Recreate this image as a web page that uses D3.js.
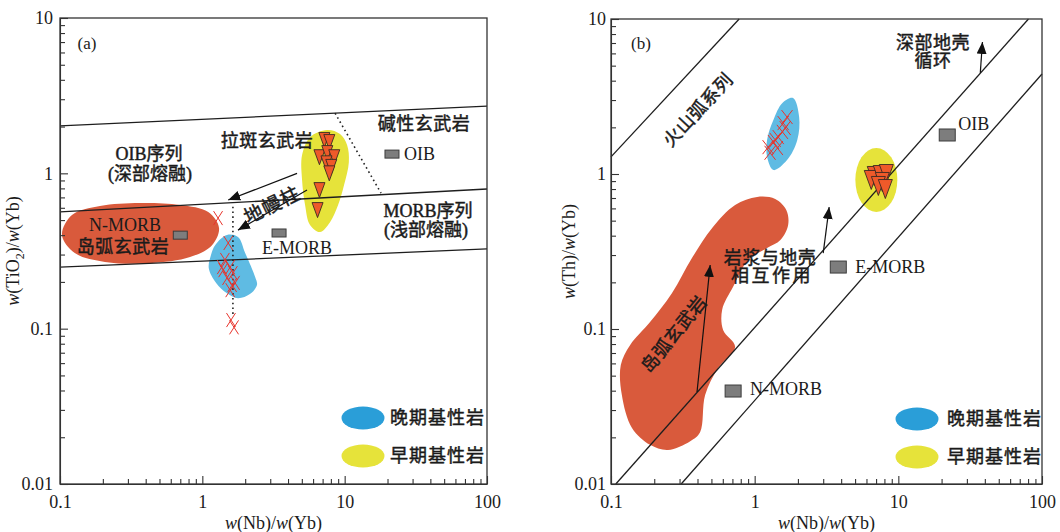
<!DOCTYPE html>
<html>
<head>
<meta charset="utf-8">
<script src="https://cdn.jsdelivr.net/npm/d3@7"></script>
<style>
  body { margin: 0; background: #fff; }
  svg text { font-family: "Liberation Serif", "Noto Sans CJK SC", serif; fill: #1b1b1b; }
  svg text.heavy { stroke: #1b1b1b; stroke-width: 0.45px; }
</style>
</head>
<body>
<svg id="chart" width="1060" height="532"></svg>
<script>
// ---------- shared axis ticks ----------
const xDecades = [0.1, 1, 10, 100];
const xDecadeLabels = ["0.1", "1", "10", "100"];
const yDecades = [0.01, 0.1, 1, 10];
const yDecadeLabels = ["0.01", "0.1", "1", "10"];

// ---------- panel (a): TiO2/Yb vs Nb/Yb ----------
const aBoundaries = [
  [[0.1, 2.02], [100, 2.71]],
  [[0.1, 0.564], [100, 0.793]],
  [[0.1, 0.249], [100, 0.326]]
];
const aDotted = [
  [[8.56, 2.44], [18.0, 0.746]],
  [[1.64, 0.61], [1.64, 0.122]]
];
const aArcField = [[0.1033, 0.401], [0.1214, 0.539], [0.191, 0.616], [0.365, 0.644], [0.697, 0.625],
  [1.10, 0.563], [1.31, 0.445], [1.17, 0.345], [0.820, 0.289], [0.429, 0.264], [0.207, 0.269], [0.127, 0.307]];
const aLateField = [[1.23, 0.345], [1.49, 0.401], [1.78, 0.389], [2.00, 0.307], [2.35, 0.215], [2.42, 0.191],
  [2.16, 0.167], [1.78, 0.157], [1.49, 0.169], [1.25, 0.197], [1.11, 0.245], [1.15, 0.298]];
const aEarlyField = [[7.52, 1.90], [9.28, 1.79], [10.4, 1.52], [10.7, 1.18], [9.90, 0.841], [8.99, 0.625],
  [7.89, 0.485], [6.71, 0.419], [5.71, 0.465], [5.27, 0.625], [5.02, 0.906], [5.02, 1.31], [5.71, 1.71]];
const aEarlyNb = [7.20, 7.80, 6.65, 7.55, 8.45, 7.45, 8.05, 7.80, 6.65, 6.45];
const aEarlyTi = [1.64, 1.59, 1.27, 1.35, 1.27, 1.16, 1.10, 1.00, 0.78, 0.58];
const aLateNb = [1.29, 1.52, 1.44, 1.57, 1.37, 1.64, 1.49, 1.62, 1.57, 1.40, 1.70, 1.59, 1.67];
const aLateTi = [0.515, 0.356, 0.277, 0.249, 0.249, 0.228, 0.212, 0.191, 0.177, 0.238, 0.197, 0.1136, 0.102];
const aRefNames = ["N-MORB", "E-MORB", "OIB"];
const aRefNb = [0.70, 3.46, 21.5];
const aRefTi = [0.40, 0.413, 1.33];
const aPlumeArrows = [
  [[4.63, 1.00], [1.52, 0.673]],
  [[5.44, 0.781], [1.78, 0.431]]
];

// ---------- panel (b): Th/Yb vs Nb/Yb ----------
const bBoundaries = [
  [[0.1, 1.29], [0.78, 10]],
  [[0.108, 0.01], [80.5, 10]],
  [[0.308, 0.01], [100, 4.42]]
];
const bArcField = [[1.04, 0.711], [1.39, 0.690], [1.66, 0.586], [1.71, 0.469], [1.51, 0.375], [1.22, 0.333],
  [0.901, 0.279], [0.708, 0.187], [0.594, 0.133], [0.603, 0.0986], [0.731, 0.0766], [0.557, 0.056],
  [0.452, 0.0375], [0.417, 0.0216], [0.356, 0.0189], [0.249, 0.0166], [0.187, 0.0179], [0.140, 0.0230],
  [0.119, 0.0375], [0.117, 0.0586], [0.136, 0.0789], [0.187, 0.111], [0.266, 0.171], [0.366, 0.287],
  [0.506, 0.449], [0.731, 0.631]];
const bLateField = [[1.85, 3.09], [2.04, 2.33], [1.98, 1.66], [1.68, 1.23], [1.35, 1.06], [1.22, 1.29],
  [1.22, 1.66], [1.35, 2.23], [1.56, 2.87]];
const bEarlyCentre = [7.03, 0.915];
const bEarlyNb = [6.80, 6.48, 7.49, 8.25, 7.74, 7.26, 8.12];
const bEarlyTh = [0.971, 0.915, 0.985, 1.00, 0.888, 0.837, 0.80];
const bLateNb = [1.24, 1.35, 1.46, 1.58, 1.68, 1.56, 1.28, 1.44, 1.63, 1.39];
const bLateTh = [1.49, 1.61, 1.73, 2.13, 2.33, 1.87, 1.37, 1.47, 1.98, 1.66];
const bRefNames = ["N-MORB", "E-MORB", "OIB"];
const bRefNb = [0.708, 3.82, 21.9];
const bRefTh = [0.0398, 0.251, 1.785];
const bArrows = [
  [[37.2, 4.49], [38.5, 7.11]],
  [[3.00, 0.309], [3.30, 0.612]],
  [[0.397, 0.0392], [0.490, 0.259]]
];

// ---------- colours ----------
const C = {
  arc: "#d95a3c", late: "#5fbbe3", lateKey: "#2a9ed8", early: "#e6e33a",
  tri: "#ee5a2a", cross: "#e8342c", ref: "#7d7d7d", ink: "#1e1e1e"
};

const svg = d3.select("#chart");
const defs = svg.append("defs");
defs.append("marker").attr("id", "head").attr("viewBox", "0 0 12 10")
  .attr("refX", 12).attr("refY", 5).attr("markerWidth", 12).attr("markerHeight", 10)
  .attr("markerUnits", "userSpaceOnUse").attr("orient", "auto")
  .append("path").attr("d", "M0,0 L12,5 L0,10 Z").attr("fill", "#111");

const isDecade = d => Math.abs(Math.log10(d) - Math.round(Math.log10(d))) < 1e-9;

function makeFrame(x, y, labelPad, yTitleX, yTitle) {
  const g = svg.append("g");
  const [x0, x1] = x.range();
  const [y1, y0] = y.range();
  const fmt = (vals, labels) => d => {
    const i = vals.findIndex(v => Math.abs(v - d) / v < 1e-9);
    return i >= 0 ? labels[i] : "";
  };
  const gx = g.append("g").attr("transform", `translate(0,${y1})`)
    .call(d3.axisBottom(x).tickValues(x.ticks()).tickSize(-5).tickSizeOuter(0)
      .tickPadding(11).tickFormat(fmt(xDecades, xDecadeLabels)));
  const gy = g.append("g").attr("transform", `translate(${x0},0)`)
    .call(d3.axisLeft(y).tickValues(y.ticks()).tickSize(-5).tickSizeOuter(0)
      .tickPadding(labelPad).tickFormat(fmt(yDecades, yDecadeLabels)));
  [gx, gy].forEach(a => {
    a.attr("font-size", null).attr("font-family", null);
    a.selectAll("text").style("font-size", "18px");
    a.selectAll("line, path").attr("stroke", "#333").attr("stroke-width", 1.1);
  });
  gx.selectAll(".tick").filter(d => isDecade(d)).select("line").attr("y2", -8);
  gy.selectAll(".tick").filter(d => isDecade(d)).select("line").attr("x2", 8);
  g.append("rect").attr("x", x0).attr("y", y0).attr("width", x1 - x0).attr("height", y1 - y0)
    .attr("fill", "none").attr("stroke", "#333").attr("stroke-width", 1.3);

  // axis titles
  const xt = g.append("text").attr("x", (x0 + x1) / 2).attr("y", y1 + 45)
    .attr("text-anchor", "middle").style("font-size", "18px");
  xt.append("tspan").attr("font-style", "italic").text("w");
  xt.append("tspan").text("(Nb)/");
  xt.append("tspan").attr("font-style", "italic").text("w");
  xt.append("tspan").text("(Yb)");

  const yt = g.append("text")
    .attr("transform", `translate(${yTitleX},${(y0 + y1) / 2}) rotate(-90)`)
    .attr("text-anchor", "middle").style("font-size", "18px");
  yTitle.forEach(p => {
    const t = yt.append("tspan").text(p.t);
    if (p.i) t.attr("font-style", "italic");
    if (p.sub) t.attr("dy", 5).style("font-size", "12px");
    if (p.up) t.attr("dy", -5);
  });
  return g;
}

function lineGen(x, y) { return d3.line().x(d => x(d[0])).y(d => y(d[1])); }
function blob(g, x, y, pts, fill) {
  g.append("path")
    .attr("d", d3.line().x(d => x(d[0])).y(d => y(d[1])).curve(d3.curveCatmullRomClosed.alpha(0.5))(pts))
    .attr("fill", fill);
}
function triangles(g, x, y, xs, ys, w, h) {
  g.selectAll(null).data(xs.map((v, i) => [v, ys[i]])).join("path")
    .attr("d", d => {
      const cx = x(d[0]), cy = y(d[1]);
      return `M${cx - w / 2},${cy - h / 2}L${cx + w / 2},${cy - h / 2}L${cx},${cy + h / 2}Z`;
    })
    .attr("fill", C.tri).attr("stroke", "#3a2a22").attr("stroke-width", 0.9);
}
function crosses(g, x, y, xs, ys, w, h) {
  const pts = xs.map((v, i) => [v, ys[i]]);
  const gg = g.append("g").attr("stroke", C.cross).attr("stroke-width", 1);
  pts.forEach(d => {
    const cx = x(d[0]), cy = y(d[1]);
    gg.append("line").attr("x1", cx - w / 2).attr("y1", cy - h / 2).attr("x2", cx + w / 2).attr("y2", cy + h / 2);
    gg.append("line").attr("x1", cx + w / 2).attr("y1", cy - h / 2).attr("x2", cx - w / 2).attr("y2", cy + h / 2);
  });
}
function refBoxes(g, x, y, xs, ys, w, h) {
  g.selectAll(null).data(xs.map((v, i) => [v, ys[i]])).join("rect")
    .attr("x", d => x(d[0]) - w / 2).attr("y", d => y(d[1]) - h / 2)
    .attr("width", w).attr("height", h)
    .attr("fill", C.ref).attr("stroke", "#3c3c3c").attr("stroke-width", 1);
}
function label(g, px, py, txt, opts = {}) {
  const t = g.append("text").attr("x", px).attr("y", py).attr("dy", "0.35em")
    .attr("text-anchor", opts.anchor || "middle").style("font-size", (opts.size || 18) + "px")
    .text(txt);
  if (/[\u4e00-\u9fff]/.test(txt)) t.attr("class", "heavy");
  if (opts.rotate) t.attr("transform", `rotate(${opts.rotate},${px},${py})`);
  if (opts.spacing) t.style("letter-spacing", opts.spacing + "px");
  return t;
}
function legend(g, cx, cy, tx) {
  g.append("ellipse").attr("cx", cx).attr("cy", cy).attr("rx", 21.5).attr("ry", 11.5).attr("fill", C.lateKey);
  g.append("ellipse").attr("cx", cx).attr("cy", cy + 38).attr("rx", 21.5).attr("ry", 11.5).attr("fill", C.early);
  label(g, tx, cy, "晚期基性岩", { anchor: "start", size: 18, spacing: 1 });
  label(g, tx, cy + 38, "早期基性岩", { anchor: "start", size: 18, spacing: 1 });
}

// =============== panel (a) ===============
const xA = d3.scaleLog().domain([0.1, 100]).range([60, 487]);
const yA = d3.scaleLog().domain([0.01, 10]).range([484, 18]);
const gA = svg.append("g");
blob(gA, xA, yA, aArcField, C.arc);
blob(gA, xA, yA, aLateField, C.late);
blob(gA, xA, yA, aEarlyField, C.early);
const lA = lineGen(xA, yA);
aBoundaries.forEach(s => gA.append("path").attr("d", lA(s)).attr("stroke", C.ink).attr("stroke-width", 1.3).attr("fill", "none"));
aDotted.forEach(s => gA.append("path").attr("d", lA(s)).attr("stroke", "#222").attr("stroke-width", 1.6)
  .attr("stroke-dasharray", "1.6,3.2").attr("fill", "none"));
aPlumeArrows.forEach(s => gA.append("path").attr("d", lA(s)).attr("stroke", "#111").attr("stroke-width", 1.2)
  .attr("fill", "none").attr("marker-end", "url(#head)"));
crosses(gA, xA, yA, aLateNb, aLateTi, 9, 14);
triangles(gA, xA, yA, aEarlyNb, aEarlyTi, 11, 15);
refBoxes(gA, xA, yA, aRefNb, aRefTi, 14, 8);
makeFrame(xA, yA, 7, 19, [
  { t: "w", i: true }, { t: "(TiO" }, { t: "2", sub: true }, { t: ")/", up: true },
  { t: "w", i: true }, { t: "(Yb)" }
]);
label(gA, 87, 43, "(a)", { size: 17 });
label(gA, 424, 124, "碱性玄武岩", { spacing: 0.5 });
label(gA, 267, 141, "拉斑玄武岩", { spacing: 0.5 });
label(gA, 149, 154, "OIB序列");
label(gA, 150, 174, "(深部熔融)");
label(gA, xA(aRefNb[2]) + 12, yA(aRefTi[2]), "OIB", { anchor: "start" });
label(gA, 428, 211, "MORB序列");
label(gA, 426, 230, "(浅部熔融)");
label(gA, 125, 225, "N-MORB", { size: 18 });
label(gA, 123, 246.5, "岛弧玄武岩", { spacing: 0.5 });
label(gA, 297, 248, "E-MORB");
label(gA, 272, 205, "地幔柱", { size: 19, rotate: -26, spacing: 1 });
legend(gA, 363, 418, 390);

// =============== panel (b) ===============
const xB = d3.scaleLog().domain([0.1, 100]).range([611, 1042]);
const yB = d3.scaleLog().domain([0.01, 10]).range([484, 19]);
const gB = svg.append("g");
blob(gB, xB, yB, bArcField, C.arc);
blob(gB, xB, yB, bLateField, C.late);
gB.append("ellipse").attr("cx", xB(bEarlyCentre[0])).attr("cy", yB(bEarlyCentre[1]))
  .attr("rx", 21).attr("ry", 32).attr("fill", C.early);
const lB = lineGen(xB, yB);
bBoundaries.forEach(s => gB.append("path").attr("d", lB(s)).attr("stroke", C.ink).attr("stroke-width", 1.3).attr("fill", "none"));
bArrows.forEach(s => gB.append("path").attr("d", lB(s)).attr("stroke", "#111").attr("stroke-width", 1.2)
  .attr("fill", "none").attr("marker-end", "url(#head)"));
crosses(gB, xB, yB, bLateNb, bLateTh, 11, 14);
triangles(gB, xB, yB, bEarlyNb, bEarlyTh, 14, 19);
refBoxes(gB, xB, yB, bRefNb, bRefTh, 16, 12);
makeFrame(xB, yB, 5, 575, [
  { t: "w", i: true }, { t: "(Th)/" }, { t: "w", i: true }, { t: "(Yb)" }
]);
label(gB, 641, 43, "(b)", { size: 17 });
label(gB, 933, 43, "深部地壳", { spacing: 0.5 });
label(gB, 933, 61, "循环", { spacing: 0.5 });
label(gB, 698, 110, "火山弧系列", { rotate: -47, spacing: 0.5 });
label(gB, 674, 334, "岛弧玄武岩", { rotate: -51, spacing: 0.5 });
label(gB, 770, 258, "岩浆与地壳", { spacing: 0.5 });
label(gB, 772, 276, "相互作用", { spacing: 2.5 });
label(gB, xB(bRefNb[2]) + 11, yB(bRefTh[2]) - 11, "OIB", { anchor: "start" });
label(gB, xB(bRefNb[1]) + 17, yB(bRefTh[1]), "E-MORB", { anchor: "start" });
label(gB, xB(bRefNb[0]) + 17, yB(bRefTh[0]) - 2, "N-MORB", { anchor: "start" });
legend(gB, 917, 419, 947);
</script>
</body>
</html>
